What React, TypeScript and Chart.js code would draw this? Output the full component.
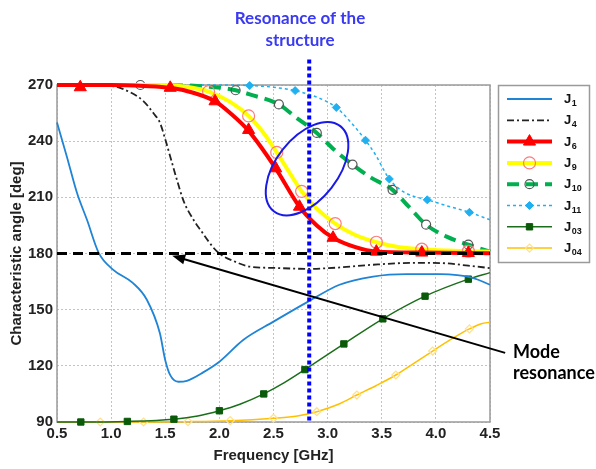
import React, { useEffect, useRef } from 'react';
import { Chart, registerables } from 'chart.js';

Chart.register(...registerables);

// ---------- axis ticks ----------
const xTickValues = [0.5, 1.0, 1.5, 2.0, 2.5, 3.0, 3.5, 4.0, 4.5];
const yTickValues = [90, 120, 150, 180, 210, 240, 270];

// ---------- series (frequency in GHz, characteristic angle in deg) ----------
const j1Freq = [0.5, 0.59, 0.685, 0.777, 0.884, 1.02, 1.2, 1.33, 1.45, 1.5, 1.546, 1.62, 1.7, 1.85, 2.0, 2.22, 2.5, 2.82, 3.11, 3.42, 3.73, 4.04, 4.34, 4.5];
const j1Angle = [250, 232, 212.3, 198, 180.5, 171.3, 164.3, 155.3, 137.5, 123, 115, 111.5, 112, 116.5, 122.2, 133.8, 143.6, 154.3, 163.3, 167.7, 169, 169, 167, 163.3];

const j4Freq = [0.5, 1.0, 1.18, 1.3, 1.39, 1.45, 1.5, 1.545, 1.607, 1.67, 1.75, 1.82, 1.98, 2.15, 2.28, 2.5, 2.81, 3.1, 3.42, 3.8, 4.04, 4.3, 4.5];
const j4Angle = [270, 269.5, 266, 261.3, 255, 250, 241, 232, 219.5, 208, 199, 193, 181, 175.5, 173, 172.3, 171.8, 172.5, 174, 175, 174.9, 173.5, 172.2];

const j6Freq = [0.5, 1.0, 1.3, 1.55, 1.75, 1.96, 2.1, 2.27, 2.52, 2.74, 2.9, 3.05, 3.25, 3.45, 3.87, 4.3, 4.5];
const j6Angle = [270, 270, 269.5, 268.5, 266, 261.3, 255, 245.5, 225.5, 205, 195, 188.4, 183.5, 181, 180.5, 180.3, 180.2];
const j6MarkFreq = [0.715, 1.546, 1.96, 2.27, 2.52, 2.74, 3.05, 3.45, 3.87, 4.3];
const j6MarkAngle = [268.8, 268.5, 261.3, 246, 225.5, 205, 188.4, 181, 180.5, 180.3];

const j9Freq = [0.5, 1.5, 1.75, 1.9, 2.1, 2.27, 2.4, 2.53, 2.65, 2.76, 2.9, 3.07, 3.25, 3.45, 3.65, 3.87, 4.1, 4.3, 4.5];
const j9Angle = [270, 270, 268.5, 266.5, 261, 253.5, 245, 234, 223, 213.2, 204, 196, 190, 186, 183.5, 182.3, 181.6, 181.2, 181];
const j9MarkFreq = [1.9, 2.27, 2.53, 2.76, 3.07, 3.45, 3.87, 4.3];
const j9MarkAngle = [266.5, 253.5, 234, 213.2, 196, 186, 182.3, 181.2];

const j10Freq = [0.5, 1.27, 1.8, 2.15, 2.28, 2.55, 2.7, 2.9, 3.05, 3.23, 3.4, 3.6, 3.75, 3.91, 4.1, 4.3, 4.5];
const j10Angle = [270, 270, 269.5, 267.2, 265, 259.6, 253, 244.4, 236, 227.5, 220.5, 214, 205, 195.4, 189, 184.7, 181];
const j10MarkFreq = [1.27, 2.15, 2.55, 2.9, 3.23, 3.6, 3.91, 4.3];
const j10MarkAngle = [270, 267.2, 259.6, 244.4, 227.5, 214, 195.4, 184.7];

const j11Freq = [0.5, 2.0, 2.28, 2.5, 2.7, 2.9, 3.08, 3.2, 3.35, 3.45, 3.51, 3.57, 3.64, 3.75, 3.92, 4.1, 4.31, 4.5];
const j11Angle = [270, 270, 269.7, 268.8, 267, 263.5, 258, 251, 240.5, 232, 225.5, 219.8, 215.5, 211.5, 208.7, 205.5, 202, 198];
const j11MarkFreq = [2.28, 2.7, 3.08, 3.35, 3.57, 3.92, 4.31];
const j11MarkAngle = [269.7, 267, 258, 240.5, 219.8, 208.7, 202];

const j03Freq = [0.5, 0.72, 1.15, 1.58, 1.8, 2.0, 2.19, 2.41, 2.6, 2.79, 3.15, 3.51, 3.9, 4.3, 4.5];
const j03Angle = [90, 90, 90.3, 91.5, 93.2, 96, 99.5, 105, 111, 118, 131.7, 145.1, 157.2, 166.3, 169.8];
const j03MarkFreq = [0.72, 1.15, 1.58, 2.0, 2.41, 2.79, 3.15, 3.51, 3.9, 4.3];
const j03MarkAngle = [90, 90.3, 91.5, 96, 105, 118, 131.7, 145.1, 157.2, 166.3];

const j04Freq = [0.5, 1.3, 1.71, 2.1, 2.5, 2.72, 2.9, 3.1, 3.27, 3.45, 3.63, 3.8, 3.97, 4.15, 4.31, 4.42, 4.5];
const j04Angle = [90, 90, 90.2, 90.7, 92, 93.2, 95.5, 99.5, 104.4, 109.5, 115.1, 121.5, 127.9, 134.5, 139.7, 142.5, 143.3];
const j04MarkFreq = [0.9, 1.3, 1.71, 2.1, 2.5, 2.9, 3.27, 3.63, 3.97, 4.31];
const j04MarkAngle = [90, 90, 90.2, 90.7, 92, 95.5, 104.4, 115.1, 127.9, 139.7];

// reference level & annotations
const modeLevelFreq = [0.5, 4.5];
const modeLevelAngle = [180, 180];
const resonanceFreq = 2.83;
const resonanceTopAngle = 283.6;
const ellipseCenter = { freq: 2.81, angle: 225.3 };
const arrowTip = { freq: 1.564, angle: 178.8 };
const arrowTail = { freq: 4.64, angle: 126.9 };

const titleLines = ['Resonance of the', 'structure'];
const modeLines = ['Mode', 'resonance'];

const FONT = "'Liberation Sans', Arial, sans-serif";
const CAL = "Lato, 'Open Sans', sans-serif";

const zip = (xs: number[], ys: number[]) => xs.map((x, i) => ({ x, y: ys[i] }));

type Mk = { style: string; r: number; fill: string | null; stroke: string; lw: number };
type Ser = { sub: string; color: string; width: number; dash: number[]; freq: number[]; angle: number[]; mf?: number[]; ma?: number[]; mk?: Mk };

const series: Ser[] = [
  { sub: '1', color: '#1f84d6', width: 1.8, dash: [], freq: j1Freq, angle: j1Angle },
  { sub: '4', color: '#222222', width: 1.8, dash: [7, 3, 2, 3], freq: j4Freq, angle: j4Angle },
  { sub: '6', color: '#ff0000', width: 4, dash: [], freq: j6Freq, angle: j6Angle, mf: j6MarkFreq, ma: j6MarkAngle, mk: { style: 'triangle', r: 7, fill: '#ff0000', stroke: '#ff0000', lw: 1 } },
  { sub: '9', color: '#ffff00', width: 4, dash: [], freq: j9Freq, angle: j9Angle, mf: j9MarkFreq, ma: j9MarkAngle, mk: { style: 'circle', r: 6, fill: null, stroke: '#ff7a7a', lw: 1.2 } },
  { sub: '10', color: '#00b050', width: 4, dash: [12, 7], freq: j10Freq, angle: j10Angle, mf: j10MarkFreq, ma: j10MarkAngle, mk: { style: 'circle', r: 4.5, fill: null, stroke: '#555555', lw: 1.2 } },
  { sub: '11', color: '#1fb0f0', width: 1.5, dash: [3, 3], freq: j11Freq, angle: j11Angle, mf: j11MarkFreq, ma: j11MarkAngle, mk: { style: 'rectRot', r: 4, fill: '#1fb0f0', stroke: '#1fb0f0', lw: 1 } },
  { sub: '03', color: '#1a6e1a', width: 1.5, dash: [], freq: j03Freq, angle: j03Angle, mf: j03MarkFreq, ma: j03MarkAngle, mk: { style: 'rect', r: 4.5, fill: '#0a5a0a', stroke: '#0a5a0a', lw: 1 } },
  { sub: '04', color: '#ffc000', width: 1.5, dash: [], freq: j04Freq, angle: j04Angle, mf: j04MarkFreq, ma: j04MarkAngle, mk: { style: 'rectRot', r: 4, fill: null, stroke: '#ffe08a', lw: 1.2 } },
];

// drawing order (lower = on top)
const drawOrder: Record<string, number> = { '6': 2, '9': 4, '10': 6, '11': 8, '4': 10, '1': 12, '03': 14, '04': 16 };

function drawMarker(ctx: CanvasRenderingContext2D, mk: Mk, x: number, y: number) {
  const r = mk.r;
  ctx.beginPath();
  if (mk.style === 'triangle') {
    ctx.moveTo(x, y - r);
    ctx.lineTo(x + r * 0.866, y + r * 0.5);
    ctx.lineTo(x - r * 0.866, y + r * 0.5);
    ctx.closePath();
  } else if (mk.style === 'circle') {
    ctx.arc(x, y, r, 0, Math.PI * 2);
  } else if (mk.style === 'rect') {
    const s = r * Math.SQRT1_2;
    ctx.rect(x - s, y - s, 2 * s, 2 * s);
  } else {
    ctx.moveTo(x, y - r);
    ctx.lineTo(x + r, y);
    ctx.lineTo(x, y + r);
    ctx.lineTo(x - r, y);
    ctx.closePath();
  }
  if (mk.fill) {
    ctx.fillStyle = mk.fill;
    ctx.fill();
  }
  ctx.setLineDash([]);
  ctx.lineWidth = mk.lw;
  ctx.strokeStyle = mk.stroke;
  ctx.stroke();
}

const framePlugin = {
  id: 'frame',
  beforeDatasetsDraw(chart: any) {
    const { ctx, chartArea: a } = chart;
    ctx.save();
    ctx.strokeStyle = '#9a9a9a';
    ctx.lineWidth = 1.5;
    ctx.strokeRect(a.left, a.top, a.right - a.left, a.bottom - a.top);
    ctx.restore();
  },
};

const annotPlugin = {
  id: 'annot',
  afterDraw(chart: any) {
    const { ctx, chartArea: a } = chart;
    const xs = chart.scales.x;
    const ys = chart.scales.y;
    ctx.save();

    // resonance vertical dotted line
    const rx = xs.getPixelForValue(resonanceFreq);
    ctx.strokeStyle = '#0000ff';
    ctx.lineWidth = 4;
    ctx.setLineDash([4, 3]);
    ctx.beginPath();
    ctx.moveTo(rx, ys.getPixelForValue(resonanceTopAngle));
    ctx.lineTo(rx, a.bottom);
    ctx.stroke();
    ctx.setLineDash([]);

    // ellipse
    ctx.strokeStyle = '#1a1ae6';
    ctx.lineWidth = 2;
    ctx.beginPath();
    ctx.ellipse(xs.getPixelForValue(ellipseCenter.freq), ys.getPixelForValue(ellipseCenter.angle), 54, 31, (-52 * Math.PI) / 180, 0, Math.PI * 2);
    ctx.stroke();

    // arrow
    const tx = xs.getPixelForValue(arrowTip.freq);
    const ty = ys.getPixelForValue(arrowTip.angle);
    const sx = xs.getPixelForValue(arrowTail.freq);
    const sy = ys.getPixelForValue(arrowTail.angle);
    const ang = Math.atan2(ty - sy, tx - sx);
    const L = 13;
    const W = 5;
    ctx.strokeStyle = '#000';
    ctx.fillStyle = '#000';
    ctx.lineWidth = 2;
    ctx.beginPath();
    ctx.moveTo(sx, sy);
    ctx.lineTo(tx - Math.cos(ang) * (L - 2), ty - Math.sin(ang) * (L - 2));
    ctx.stroke();
    ctx.beginPath();
    ctx.moveTo(tx, ty);
    ctx.lineTo(tx - Math.cos(ang) * L - Math.sin(ang) * W, ty - Math.sin(ang) * L + Math.cos(ang) * W);
    ctx.lineTo(tx - Math.cos(ang) * L + Math.sin(ang) * W, ty - Math.sin(ang) * L - Math.cos(ang) * W);
    ctx.closePath();
    ctx.fill();

    // title
    ctx.fillStyle = '#3a3af2';
    ctx.font = `bold 17px ${CAL}`;
    ctx.textAlign = 'center';
    ctx.textBaseline = 'alphabetic';
    ctx.fillText(titleLines[0], 300, 24);
    ctx.fillText(titleLines[1], 300, 46);

    // mode resonance
    ctx.fillStyle = '#000';
    ctx.font = `bold 18px ${CAL}`;
    ctx.textAlign = 'left';
    ctx.fillText(modeLines[0], 513, 358);
    ctx.fillText(modeLines[1], 513, 379);

    // legend
    ctx.strokeStyle = '#9a9a9a';
    ctx.lineWidth = 1.5;
    ctx.strokeRect(498.5, 85.5, 91, 177);
    series.forEach((s, i) => {
      const y = 99 + i * 21.3;
      ctx.strokeStyle = s.color;
      ctx.lineWidth = s.width;
      ctx.setLineDash(s.dash);
      ctx.beginPath();
      ctx.moveTo(507, y);
      ctx.lineTo(552, y);
      ctx.stroke();
      ctx.setLineDash([]);
      if (s.mk) drawMarker(ctx, s.mk, 529.5, y);
      ctx.fillStyle = '#111';
      ctx.textAlign = 'left';
      ctx.textBaseline = 'alphabetic';
      ctx.font = `bold 13px ${FONT}`;
      ctx.fillText('J', 564, y + 4);
      const jw = ctx.measureText('J').width;
      ctx.font = `bold 9px ${FONT}`;
      ctx.fillText(s.sub, 564 + jw + 0.5, y + 7);
    });
    ctx.restore();
  },
};

export default function App() {
  const ref = useRef<HTMLCanvasElement | null>(null);
  useEffect(() => {
    if (!ref.current) return;
    const datasets: any[] = [];
    series.forEach((s) => {
      datasets.push({
        label: 'J' + s.sub,
        data: zip(s.freq, s.angle),
        borderColor: s.color,
        borderWidth: s.width,
        borderDash: s.dash,
        pointRadius: 0,
        fill: false,
        cubicInterpolationMode: 'monotone',
        clip: false,
        order: drawOrder[s.sub],
      });
      if (s.mk && s.mf && s.ma) {
        datasets.push({
          label: 'J' + s.sub + ' markers',
          data: zip(s.mf, s.ma),
          showLine: false,
          pointStyle: s.mk.style,
          pointRadius: s.mk.r,
          pointBackgroundColor: s.mk.fill || 'rgba(0,0,0,0)',
          pointBorderColor: s.mk.stroke,
          pointBorderWidth: s.mk.lw,
          clip: false,
          order: drawOrder[s.sub] - 1,
        });
      }
    });
    datasets.push({
      label: 'mode level',
      data: zip(modeLevelFreq, modeLevelAngle),
      borderColor: '#000',
      borderWidth: 3,
      borderDash: [10, 6],
      pointRadius: 0,
      clip: false,
      order: 0,
    });

    const chart = new Chart(ref.current, {
      type: 'line',
      data: { datasets },
      options: {
        animation: false,
        responsive: false,
        maintainAspectRatio: false,
        devicePixelRatio: 1,
        layout: { padding: { top: 85, right: 106, left: 0, bottom: 0 } },
        plugins: { legend: { display: false }, tooltip: { enabled: false }, title: { display: false } },
        scales: {
          x: {
            type: 'linear',
            min: 0.5,
            max: 4.5,
            afterBuildTicks: (sc: any) => { sc.ticks = xTickValues.map((v) => ({ value: v })); },
            afterFit: (sc: any) => { sc.height = 47; },
            ticks: {
              autoSkip: false,
              maxRotation: 0,
              padding: 3,
              color: '#222',
              font: { family: FONT, size: 15, weight: 'bold' },
              callback: (v: any) => Number(v).toFixed(1),
            },
            grid: { color: '#c4c4c4', lineWidth: 1, drawTicks: false },
            border: { display: false, dash: [2, 2] },
            title: {
              display: true,
              text: 'Frequency [GHz]',
              color: '#222',
              font: { family: FONT, size: 15, weight: 'bold' },
              padding: { top: 4, bottom: 4 },
            },
          },
          y: {
            type: 'linear',
            min: 90,
            max: 270,
            afterBuildTicks: (sc: any) => { sc.ticks = yTickValues.map((v) => ({ value: v })); },
            afterFit: (sc: any) => { sc.width = 57; },
            ticks: {
              autoSkip: false,
              padding: 4,
              color: '#222',
              font: { family: FONT, size: 15, weight: 'bold' },
            },
            grid: { color: '#c4c4c4', lineWidth: 1, drawTicks: false },
            border: { display: false, dash: [2, 2] },
            title: {
              display: true,
              text: 'Characteristic angle [deg]',
              color: '#222',
              font: { family: FONT, size: 15, weight: 'bold' },
              padding: { top: 8, bottom: 0 },
            },
          },
        },
      },
      plugins: [framePlugin, annotPlugin],
    } as any);
    return () => chart.destroy();
  }, []);
  return (
    <div style={{ position: 'fixed', left: 0, top: 0, width: 596, height: 469, background: '#fff' }}>
      <canvas ref={ref} width={596} height={469} style={{ width: 596, height: 469, display: 'block' }} />
    </div>
  );
}
